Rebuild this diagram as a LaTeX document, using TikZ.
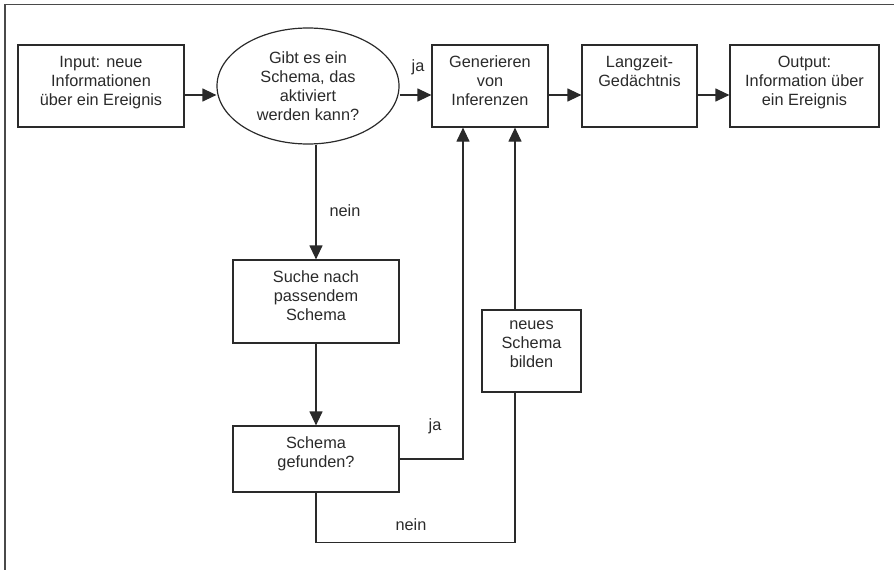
\documentclass[tikz,border=0pt]{standalone}
\usepackage{fontspec}
\setmainfont{Liberation Sans}
\usetikzlibrary{arrows.meta,shapes.geometric,calc}
\definecolor{ink}{HTML}{2A2A2A}
\begin{document}
\begin{tikzpicture}[x=1pt,y=-1pt,
  font=\fontsize{16.3}{19}\selectfont,
  box/.style={draw=ink, line width=1.2pt, rectangle, inner sep=0pt, minimum height=82pt},
  question/.style={draw=ink, line width=1.2pt, ellipse, inner sep=0pt, align=center, text=ink},
  boxtext/.style={anchor=north, inner sep=0pt, align=center, text=ink, yshift=-11.5pt},
  arr/.style={draw=ink, line width=1.2pt, -{Triangle[length=14pt,width=13pt]}},
  link/.style={draw=ink, line width=1.2pt},
  lbl/.style={inner sep=0pt, text=ink}]
\useasboundingbox (0,0) rectangle (894,570);
% page frame (top and left rules)
\draw[draw=ink!85, line width=1.6pt] (5,570) -- (5,4.5) -- (894,4.5);

% main row
\node[box, minimum width=166pt] (input) at (101,86) {};
\node[boxtext] (inputtxt) at (input.north) {Input: neue\\Informationen\\über ein Ereignis};
\node[question, minimum width=182pt, minimum height=116pt] (ask) at (308,86)
  {Gibt es ein\\Schema, das\\aktiviert\\werden kann?};
\node[box, minimum width=116pt] (gen) at (490,86) {};
\node[boxtext] (gentxt) at (gen.north) {Generieren\\von\\Inferenzen};
\node[box, minimum width=115pt] (ltm) at (639.5,86) {};
\node[boxtext] (ltmtxt) at (ltm.north) {Langzeit-\\Gedächtnis};
\node[box, minimum width=149pt] (out) at (804.5,86) {};
\node[boxtext] (outtxt) at (out.north) {Output:\\Information über\\ein Ereignis};

% search branch
\node[box, minimum width=166pt, minimum height=83pt] (suche) at (316,301.5) {};
\node[boxtext] (suchetxt) at (suche.north) {Suche nach\\passendem\\Schema};
\node[box, minimum width=166pt, minimum height=66pt] (found) at (316,459) {};
\node[boxtext] (foundtxt) at (found.north) {Schema\\gefunden?};
\node[box, minimum width=99pt] (neues) at (531.5,351) {};
\node[boxtext] (neuestxt) at (neues.north) {neues\\Schema\\bilden};

% helper points
\coordinate (row) at (0,95);
\coordinate (jain) at ([xshift=-27pt]gen.south);
\coordinate (newin) at ([xshift=25pt]gen.south);

% connectors
\draw[arr] (input.east |- row) -- (ask.west |- row);
\draw[arr] (ask.east |- row) -- (gen.west |- row);
\draw[arr] (gen.east |- row) -- (ltm.west |- row);
\draw[arr] (ltm.east |- row) -- (out.west |- row);
\draw[arr] (suche.north |- ask.south) -- (suche.north);
\draw[arr] (suche.south) -- (found.north);
\draw[arr] (found.east) -| (jain);
\draw[arr] (neues.north -| newin) -- (newin);
\draw[link] (found.south) -- ++(0,50) -| (neues.south -| newin);

% branch labels
\node[lbl] (ja1) at (418,67) {ja};
\node[lbl] (nein1) at (345,211) {nein};
\node[lbl] (ja2) at (435,426) {ja};
\node[lbl] (nein2) at (411,525) {nein};
\end{tikzpicture}
\end{document}
